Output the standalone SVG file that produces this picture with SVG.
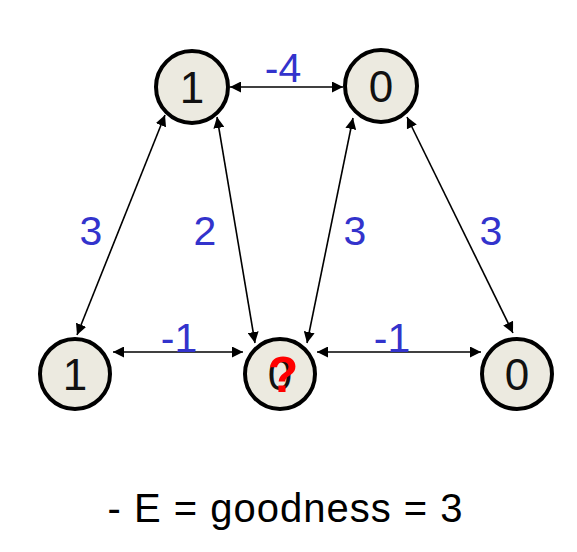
<svg xmlns="http://www.w3.org/2000/svg" width="577" height="552" viewBox="0 0 577 552">
  <style>
    .node circle { fill: #ECEAE0; stroke: #000; stroke-width: 4; }
    .node text { font-family: "Liberation Sans", Arial, sans-serif; font-size: 44px; fill: #111; text-anchor: middle; }
    .node text.q { font-size: 50px; font-weight: bold; fill: #FF0000; }
    .edge { stroke: #000; stroke-width: 1.6; fill: none; marker-start: url(#ah); marker-end: url(#ah); }
    .lbl { font-family: "Liberation Sans", Arial, sans-serif; font-size: 41px; fill: #3333CC; text-anchor: middle; }
    .eq { font-family: "Liberation Sans", Arial, sans-serif; font-size: 40px; fill: #000; text-anchor: middle; }
  </style>
  <defs>
    <marker id="ah" markerUnits="userSpaceOnUse" markerWidth="12" markerHeight="11" refX="11" refY="5.5" orient="auto-start-reverse">
      <path d="M0,0 L11,5.5 L0,11 Z" fill="#000"/>
    </marker>
  </defs>
  <rect width="577" height="552" fill="#fff"/>
  <g id="connectors">
    <line class="edge" x1="230" y1="87" x2="343" y2="87"/>
    <line class="edge" x1="113" y1="352" x2="243" y2="352"/>
    <line class="edge" x1="317" y1="352" x2="481" y2="352"/>
    <line class="edge" x1="165" y1="115" x2="77" y2="335"/>
    <line class="edge" x1="217" y1="117" x2="255" y2="343"/>
    <line class="edge" x1="353" y1="118" x2="307" y2="343"/>
    <line class="edge" x1="407" y1="117" x2="513" y2="333"/>
  </g>
  <g id="edge-labels">
    <text class="lbl" x="283" y="82">-4</text>
    <text class="lbl" x="179" y="352">-1</text>
    <text class="lbl" x="392" y="352">-1</text>
    <text class="lbl" x="91" y="245">3</text>
    <text class="lbl" x="205" y="245">2</text>
    <text class="lbl" x="355" y="245">3</text>
    <text class="lbl" x="491" y="245">3</text>
  </g>
  <g id="n1" class="node">
    <circle cx="192" cy="87" r="36"/>
    <text x="192" y="103">1</text>
  </g>
  <g id="n2" class="node">
    <circle cx="381" cy="86" r="36"/>
    <text x="381" y="102">0</text>
  </g>
  <g id="n3" class="node">
    <circle cx="75" cy="374" r="35"/>
    <text x="75" y="390">1</text>
  </g>
  <g id="n4" class="node">
    <circle cx="280" cy="374" r="35"/>
    <text x="280" y="390">0</text>
    <text class="q" x="283" y="392">?</text>
  </g>
  <g id="n5" class="node">
    <circle cx="517" cy="374" r="35"/>
    <text x="517" y="390">0</text>
  </g>
  <text class="eq" x="285" y="522" textLength="355" lengthAdjust="spacing">- E = goodness = 3</text>
</svg>
